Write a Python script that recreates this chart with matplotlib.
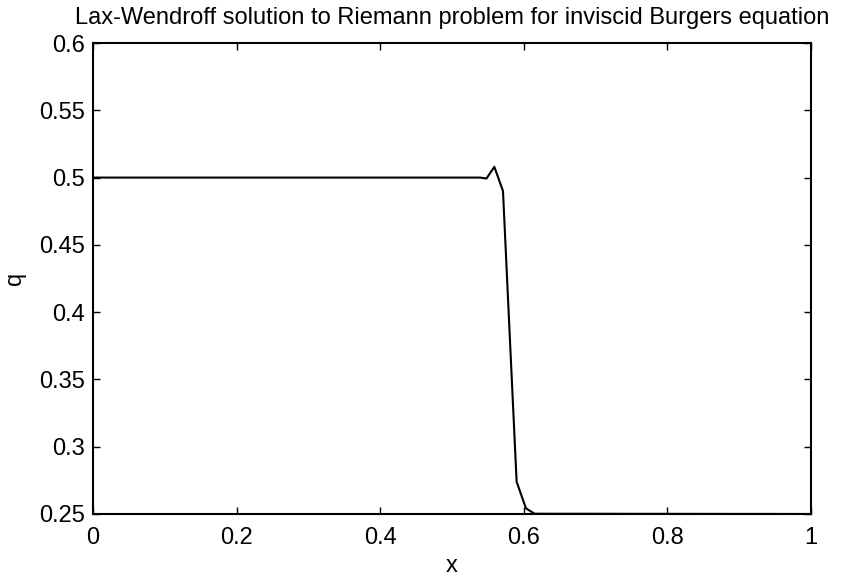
import numpy as np
import matplotlib
matplotlib.use("Agg")
import matplotlib.pyplot as plt

plt.rcParams['font.family'] = ['Liberation Sans', 'DejaVu Sans']

# Lax-Wendroff 数值解
x_vals = [0.0, 0.539, 0.548, 0.559, 0.571, 0.581, 0.590, 0.603, 0.615, 1.0]
q_vals = [0.5, 0.5, 0.4993, 0.508, 0.490, 0.376, 0.274, 0.2542, 0.2502, 0.25]

x_ticks = [0, 0.2, 0.4, 0.6, 0.8, 1]
x_tick_labels = ['0', '0.2', '0.4', '0.6', '0.8', '1']
y_ticks = [0.25, 0.3, 0.35, 0.4, 0.45, 0.5, 0.55, 0.6]
y_tick_labels = ['0.25', '0.3', '0.35', '0.4', '0.45', '0.5', '0.55', '0.6']

fig = plt.figure(figsize=(8.46, 5.8), dpi=100)
ax = fig.add_axes([93 / 846, 66 / 580, 718 / 846, 471 / 580])

ax.plot(x_vals, q_vals, color='black', linewidth=1.5)

ax.set_xlim(0, 1)
ax.set_ylim(0.25, 0.6)
ax.set_xticks(x_ticks)
ax.set_xticklabels(x_tick_labels)
ax.set_yticks(y_ticks)
ax.set_yticklabels(y_tick_labels)
ax.tick_params(direction='in', length=5, width=1, top=True, right=True,
               labelsize=17)
ax.tick_params(axis='x', pad=9)
ax.tick_params(axis='y', pad=6)
for sp in ax.spines.values():
    sp.set_linewidth(1.5)

ax.set_xlabel('x', fontsize=17, labelpad=5)
ax.set_ylabel('q', fontsize=17, labelpad=9)
ax.set_title('Lax-Wendroff solution to Riemann problem for inviscid Burgers equation',
             fontsize=17, pad=14)

fig.savefig('out.png', dpi=100)
